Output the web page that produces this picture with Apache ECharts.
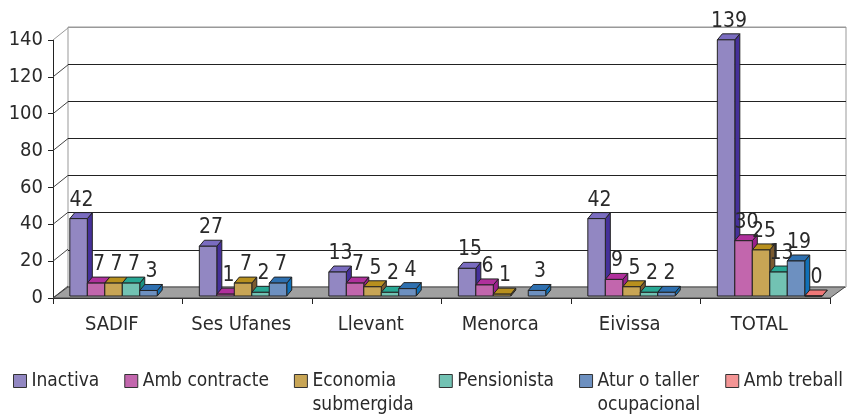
<!DOCTYPE html>
<html>
<head>
<meta charset="utf-8">
<script src="https://cdn.jsdelivr.net/npm/echarts@6/dist/echarts.min.js"></script>
<style>
  html, body { margin: 0; padding: 0; background: #fff; }
  #chart { width: 853px; height: 420px; }
</style>
</head>
<body>
<div id="chart"></div>
<script>
const categories = ['SADIF', 'Ses Ufanes', 'Llevant', 'Menorca', 'Eivissa', 'TOTAL'];
const inactiva = [42, 27, 13, 15, 42, 139];
const ambContracte = [7, 1, 7, 6, 9, 30];
const economiaSubmergida = [7, 7, 5, 1, 5, 25];
const pensionista = [7, 2, 2, null, 2, 13];
const aturTaller = [3, 7, 4, 3, 2, 19];
const ambTreball = [null, null, null, null, null, 0];
const yTicks = [0, 20, 40, 60, 80, 100, 120, 140];

const FONT = "'Liberation Sans Narrow', 'DejaVu Sans Condensed', sans-serif";
const DEPTH_X = 15, DEPTH_Y = -11;

// front, top, side colours for each series
const seriesDefs = [
  { name: 'Inactiva', data: inactiva, colors: ['#9287c2', '#7a6cc0', '#45309a'] },
  { name: 'Amb contracte', data: ambContracte, colors: ['#c266ad', '#b0309c', '#9a1f8c'] },
  { name: 'Economia submergida', data: economiaSubmergida, colors: ['#c8a555', '#b8901e', '#7a5a30'] },
  { name: 'Pensionista', data: pensionista, colors: ['#72c2b3', '#28a894', '#1a9080'] },
  { name: 'Atur o taller ocupacional', data: aturTaller, colors: ['#6d90c0', '#2e70b0', '#1070b8'] },
  { name: 'Amb treball', data: ambTreball, colors: ['#f49595', '#f07878', '#d06060'] }
];

function barRenderer(idx, colors) {
  return function (params, api) {
    const cat = api.value(0);
    const v = api.value(1);
    const base = api.coord([cat, 0]);
    const top = api.coord([cat, v]);
    const band = api.size([1, 0])[0];
    const w = band * 0.135;
    const x0 = base[0] - band * 0.37 + idx * w;
    const y0 = base[1] - 2;
    const y1 = top[1] - 2;
    const dx = 5, dy = -6;
    const stroke = { stroke: '#222', lineWidth: 1 };
    return {
      type: 'group',
      children: [
        { type: 'polygon', shape: { points: [[x0 + w, y1], [x0 + w + dx, y1 + dy], [x0 + w + dx, y0 + dy], [x0 + w, y0]] },
          style: Object.assign({ fill: colors[2] }, stroke) },
        { type: 'polygon', shape: { points: [[x0, y1], [x0 + dx, y1 + dy], [x0 + w + dx, y1 + dy], [x0 + w, y1]] },
          style: Object.assign({ fill: colors[1] }, stroke) },
        { type: 'rect', shape: { x: x0, y: y1, width: w, height: y0 - y1 },
          style: Object.assign({ fill: colors[0] }, stroke) },
        { type: 'text', style: { text: String(v), x: x0 + w / 2 + 3, y: y1 + dy - 2,
          align: 'center', verticalAlign: 'bottom', font: '21px ' + FONT, fill: '#2a2a2a' } }
      ]
    };
  };
}

function frameRenderer(params, api) {
  const cs = params.coordSys;
  const p = api.coord([0, api.value(1)]);
  const x = cs.x;
  const children = [];
  if (params.dataIndex === 0) {
    const xr = cs.x + cs.width;
    children.push({ type: 'polygon', shape: { points: [[x, p[1]], [xr, p[1]], [xr + DEPTH_X, p[1] + DEPTH_Y], [x + DEPTH_X, p[1] + DEPTH_Y]] },
      style: { fill: '#a0a0a0', stroke: '#444', lineWidth: 1 } });
  }
  children.push({ type: 'line', shape: { x1: x, y1: p[1], x2: x + DEPTH_X, y2: p[1] + DEPTH_Y - 1 },
    style: { stroke: params.dataIndex === yTicks.length - 1 ? '#999' : '#444', lineWidth: 1 } });
  return { type: 'group', children: children };
}

const chart = echarts.init(document.getElementById('chart'));

const series = [{
  type: 'custom',
  name: 'frame',
  xAxisIndex: 0, yAxisIndex: 0,
  z: 1,
  silent: true,
  renderItem: frameRenderer,
  data: yTicks.map(t => [0, t])
}];

seriesDefs.forEach((s, i) => {
  series.push({
    type: 'custom',
    name: s.name,
    xAxisIndex: 0, yAxisIndex: 0,
    z: 3,
    itemStyle: { color: s.colors[0] },
    renderItem: barRenderer(i, s.colors),
    data: s.data.map((v, k) => [k, v]).filter(d => d[1] !== null)
  });
});

chart.setOption({
  animation: false,
  backgroundColor: '#fff',
  grid: [
    { left: 53, right: 23, top: 40, bottom: 122 },
    { left: 68, right: 7, top: 27, bottom: 133, show: true, borderColor: '#999', borderWidth: 1, backgroundColor: 'transparent' }
  ],
  xAxis: [
    {
      type: 'category', gridIndex: 0, data: categories, boundaryGap: true,
      axisLine: { show: true, lineStyle: { color: '#222', width: 1 } },
      axisTick: { show: true, interval: 0, length: 6, lineStyle: { color: '#222' } },
      axisLabel: { interval: 0, fontFamily: FONT, fontSize: 20, color: '#2a2a2a', margin: 17, padding: [0, 12, 0, 0] },
      splitLine: { show: false }
    },
    { type: 'value', gridIndex: 1, min: 0, max: 1, show: false }
  ],
  yAxis: [
    {
      type: 'value', gridIndex: 0, min: 0, max: 140, interval: 20,
      axisLine: { show: true, lineStyle: { color: '#222', width: 1 } },
      axisTick: { show: true, length: 5, lineStyle: { color: '#222' } },
      axisLabel: { fontFamily: FONT, fontSize: 20, color: '#2a2a2a', margin: 10 },
      splitLine: { show: false }
    },
    {
      type: 'value', gridIndex: 1, min: 0, max: 140, interval: 20,
      axisLine: { show: false }, axisTick: { show: false }, axisLabel: { show: false },
      splitLine: { show: true, lineStyle: { color: ['#999', '#222', '#222', '#222', '#222', '#222', '#222', '#999'], width: 1 } }
    }
  ],
  legend: {
    left: 8, top: 340, width: 845, itemWidth: 13, itemHeight: 13, itemGap: 25,
    icon: 'rect',
    itemStyle: { borderColor: '#333', borderWidth: 1 },
    textStyle: { fontFamily: FONT, fontSize: 19, color: '#2a2a2a', lineHeight: 24 },
    data: seriesDefs.map(s => s.name),
    formatter: function (name) {
      if (name === 'Economia submergida') return '\nEconomia\nsubmergida';
      if (name === 'Atur o taller ocupacional') return '\nAtur o taller\nocupacional';
      return name;
    }
  },
  series: series
});
</script>
</body>
</html>
